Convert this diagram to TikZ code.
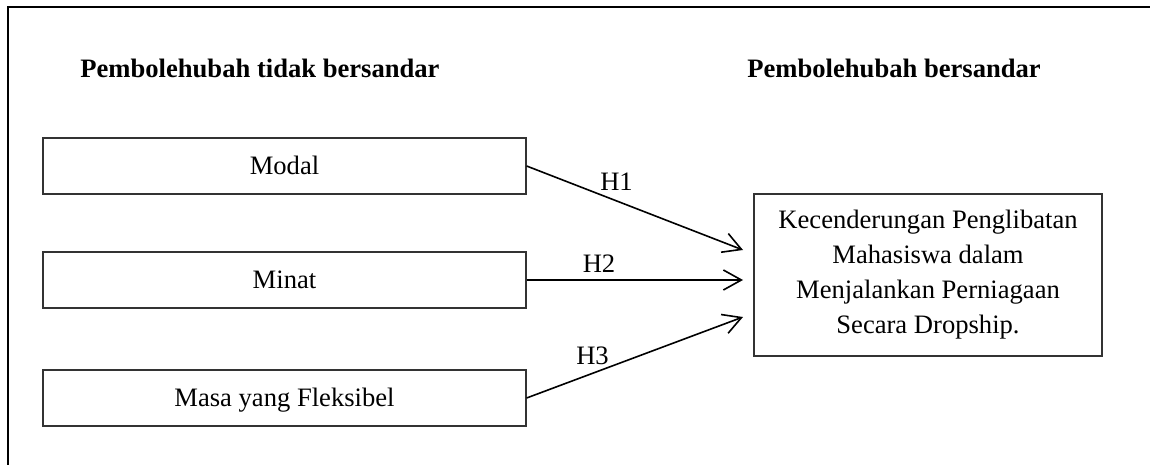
\documentclass[tikz,border=0pt]{standalone}
\usepackage{fontspec}
\setmainfont{Liberation Serif}
\usetikzlibrary{arrows.meta,positioning}

\begin{document}
\begin{tikzpicture}[x=0.5pt, y=-0.5pt,
	indepbox/.style={draw=black!80, line width=0.6pt, minimum width=241.5pt, minimum height=28pt, inner sep=0pt, text height=8.8pt, text depth=0pt, font=\fontsize{13.3}{16}\selectfont},
	depbox/.style={draw=black!80, line width=0.6pt, minimum width=174pt, minimum height=81pt, inner sep=0pt, align=center, font=\fontsize{13.3}{17.5}\selectfont},
	heading/.style={anchor=base west, inner sep=0pt, font=\fontsize{13.3}{16}\selectfont\bfseries},
	hyp/.style={-{Straight Barb[length=9pt, width=10pt]}, line width=0.8pt},
	hlabel/.style={inner sep=0pt, text height=8.8pt, text depth=0pt, font=\fontsize{13.3}{16}\selectfont}]
	\useasboundingbox (0,0) rectangle (1150,465);
	\draw[line width=1pt] (8,465) -- (8,7) -- (1150,7);
	\node[heading] (hindep) at (80,78) {Pembolehubah tidak bersandar};
	\node[heading] (hdep) at (747,78) {Pembolehubah bersandar};
	\node[indepbox] (modal) at (284.5,166) {Modal};
	\node[indepbox] (minat) at (284.5,280) {Minat};
	\node[indepbox] (masa) at (284.5,398) {Masa yang Fleksibel};
	\node[depbox] (dep) at (928,275) {Kecenderungan Penglibatan\\Mahasiswa dalam\\Menjalankan Perniagaan\\Secara Dropship.};
	\coordinate (t1) at (743,250);
	\coordinate (t2) at (743,280);
	\coordinate (t3) at (743,317);
	\draw[hyp] (modal.east) -- (t1);
	\draw[hyp] (minat.east) -- (t2);
	\draw[hyp] (masa.east) -- (t3);
	\node[hlabel] (h1) at (616.5,182) {H1};
	\node[hlabel] (h2) at (599,263.5) {H2};
	\node[hlabel] (h3) at (592.5,356) {H3};
\end{tikzpicture}
\end{document}
